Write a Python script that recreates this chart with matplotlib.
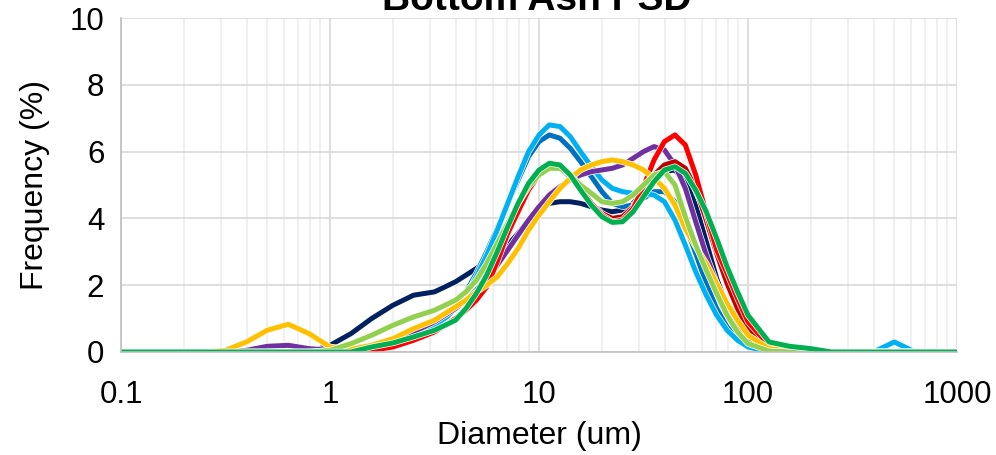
import matplotlib
matplotlib.use("Agg")
import matplotlib.pyplot as plt
import matplotlib.patheffects as pe
from matplotlib.ticker import LogLocator, FixedLocator, NullFormatter

plt.rcParams['font.family'] = ['Liberation Sans', 'DejaVu Sans']

# diámetros (um)
diametro = [0.1, 0.126, 0.158, 0.2, 0.251, 0.316, 0.398, 0.501, 0.631, 0.794,
            1.0, 1.26, 1.58, 2.0, 2.51,
            3.16, 3.55, 3.98, 4.47, 5.01, 5.62, 6.31, 7.08, 7.94, 8.91,
            10.0, 11.2, 12.6, 14.1, 15.8, 17.8, 20.0, 22.4, 25.1, 28.2,
            31.6, 35.5, 39.8, 44.7, 50.1, 56.2, 63.1, 70.8, 79.4, 89.1,
            100.0, 126, 158, 200, 251, 316, 398, 501, 631, 794, 1000]

# frecuencias (%) por muestra
navy = [0, 0, 0, 0, 0, 0, 0, 0, 0, 0,
        0.2, 0.55, 1.0, 1.4, 1.7,
        1.8, 1.95, 2.1, 2.3, 2.5, 2.75, 2.95, 3.2, 3.55, 3.95,
        4.25, 4.45, 4.5, 4.5, 4.45, 4.35, 4.25, 4.2, 4.25, 4.45,
        4.8, 5.15, 5.4, 5.45, 5.1, 4.4, 3.3, 2.2, 1.35, 0.7,
        0.35, 0.1, 0.05, 0, 0, 0, 0, 0, 0, 0, 0]
azul = [0, 0, 0, 0, 0, 0, 0, 0, 0, 0,
        0, 0.1, 0.2, 0.35, 0.55,
        0.8, 1.05, 1.35, 1.8, 2.35, 3.0, 3.7, 4.45, 5.15, 5.85,
        6.3, 6.5, 6.4, 6.1, 5.7, 5.25, 4.8, 4.45, 4.35, 4.4,
        4.6, 4.8, 4.8, 4.5, 3.8, 2.95, 2.05, 1.3, 0.75, 0.4,
        0.2, 0.05, 0, 0, 0, 0, 0, 0, 0, 0, 0]
celeste = [0, 0, 0, 0, 0, 0, 0, 0, 0, 0,
           0, 0.1, 0.2, 0.35, 0.55,
           0.8, 1.0, 1.3, 1.7, 2.25, 2.9, 3.65, 4.45, 5.25, 6.0,
           6.5, 6.8, 6.75, 6.45, 6.0, 5.55, 5.15, 4.9, 4.8, 4.75,
           4.75, 4.7, 4.5, 3.95, 3.2, 2.4, 1.7, 1.1, 0.65, 0.35,
           0.15, 0, 0, 0, 0, 0, 0, 0.3, 0, 0, 0]
morado = [0, 0, 0, 0, 0, 0, 0.05, 0.17, 0.2, 0.1,
          0.05, 0.1, 0.2, 0.35, 0.6,
          0.9, 1.1, 1.3, 1.55, 1.85, 2.2, 2.6, 3.05, 3.5, 3.95,
          4.35, 4.7, 4.95, 5.15, 5.3, 5.4, 5.45, 5.5, 5.6, 5.8,
          6.0, 6.15, 6.05, 5.6, 4.9, 3.9, 2.9, 2.05, 1.3, 0.75,
          0.4, 0.08, 0, 0, 0, 0, 0, 0, 0, 0, 0]
granate = [0, 0, 0, 0, 0, 0, 0, 0, 0, 0,
           0, 0, 0.05, 0.15, 0.35,
           0.6, 0.8, 1.0, 1.3, 1.65, 2.1, 2.75, 3.5, 4.25, 4.9,
           5.35, 5.55, 5.5, 5.25, 4.85, 4.45, 4.15, 4.0, 4.05, 4.35,
           4.85, 5.3, 5.6, 5.7, 5.5, 4.9, 3.95, 2.95, 2.05, 1.3,
           0.7, 0.15, 0.05, 0, 0, 0, 0, 0, 0, 0, 0]
rojo = [0, 0, 0, 0, 0, 0, 0, 0, 0, 0,
        0, 0, 0.05, 0.15, 0.35,
        0.6, 0.8, 1.0, 1.25, 1.55, 1.95, 2.7, 3.55, 4.2, 4.85,
        5.3, 5.55, 5.55, 5.3, 4.9, 4.45, 4.1, 3.9, 3.95, 4.3,
        4.95, 5.75, 6.3, 6.5, 6.2, 5.3, 4.15, 3.05, 2.35, 1.6,
        0.9, 0.2, 0.05, 0, 0, 0, 0, 0, 0, 0, 0]
amarillo = [0, 0, 0, 0, 0, 0.05, 0.3, 0.65, 0.83, 0.55,
            0.15, 0.08, 0.2, 0.4, 0.7,
            0.95, 1.15, 1.35, 1.55, 1.8, 2.0, 2.25, 2.65, 3.1, 3.65,
            4.1, 4.5, 4.9, 5.2, 5.45, 5.6, 5.7, 5.75, 5.7, 5.6,
            5.45, 5.2, 4.9, 4.4, 3.7, 3.15, 2.65, 2.05, 1.45, 0.95,
            0.5, 0.1, 0.03, 0, 0, 0, 0, 0, 0, 0, 0]
verde_claro = [0, 0, 0, 0, 0, 0, 0, 0, 0, 0,
               0.05, 0.25, 0.5, 0.8, 1.05,
               1.25, 1.4, 1.55, 1.8, 2.15, 2.65, 3.25, 3.85, 4.45, 4.95,
               5.3, 5.5, 5.5, 5.3, 5.0, 4.75, 4.5, 4.45, 4.5, 4.7,
               5.0, 5.3, 5.4, 5.0, 4.05, 3.2, 2.45, 1.75, 1.1, 0.6,
               0.25, 0.03, 0, 0, 0, 0, 0, 0, 0, 0, 0]
verde = [0, 0, 0, 0, 0, 0, 0, 0, 0, 0,
         0, 0, 0.15, 0.27, 0.45,
         0.65, 0.8, 0.95, 1.3, 1.75, 2.3, 3.0, 3.75, 4.45, 5.05,
         5.45, 5.65, 5.6, 5.3, 4.85, 4.4, 4.05, 3.88, 3.9, 4.2,
         4.65, 5.1, 5.45, 5.55, 5.35, 4.85, 4.2, 3.4, 2.55, 1.8,
         1.1, 0.3, 0.17, 0.1, 0, 0, 0, 0, 0, 0, 0]

series = [
    (navy, '#002060'),
    (azul, '#0070C0'),
    (celeste, '#00B0F0'),
    (morado, '#7030A0'),
    (granate, '#C00000'),
    (rojo, '#FF0000'),
    (amarillo, '#FFC000'),
    (verde_claro, '#92D050'),
    (verde, '#00B050'),
]

fig = plt.figure(figsize=(9.96, 4.55), dpi=100)
ax = fig.add_axes([0.1215, 0.2264, 0.8394, 0.734])

for valores, color in series:
    ax.plot(diametro, valores, color=color, lw=3.6, solid_capstyle='round',
            solid_joinstyle='round',
            path_effects=[pe.Stroke(linewidth=4.6, foreground='white'), pe.Normal()])

ax.set_xscale('log')
ax.set_xlim(0.1, 1000)
ax.set_ylim(0, 10)
ax.set_yticks([0, 2, 4, 6, 8, 10])
ax.xaxis.set_major_locator(FixedLocator([0.1, 1, 10, 100, 1000]))
ax.set_xticklabels(['0.1', '1', '10', '100', '1000'])
ax.xaxis.set_minor_locator(LogLocator(base=10, subs=range(2, 10), numticks=20))
ax.xaxis.set_minor_formatter(NullFormatter())

ax.grid(which='major', color='#D9D9D9', lw=1.2)
ax.grid(which='minor', axis='x', color='#EDEDED', lw=1.2)
ax.set_axisbelow(True)
for lado in ['top', 'right']:
    ax.spines[lado].set_visible(False)
ax.spines['left'].set_color('#BFBFBF')
ax.spines['bottom'].set_color('#BFBFBF')
ax.spines['left'].set_linewidth(1.2)
ax.spines['bottom'].set_linewidth(1.2)
ax.tick_params(which='both', length=0, labelsize=22.5, colors='black')
ax.tick_params(axis='x', pad=20)
ax.tick_params(axis='y', pad=12)

ax.set_xlabel('Diameter (um)', fontsize=23, labelpad=8)
ax.set_ylabel('Frequency (%)', fontsize=23, labelpad=14)
fig.text(0.539, 0.978, 'Bottom Ash PSD', fontsize=28, fontweight='bold',
         ha='center', va='baseline')

fig.savefig('out.png', dpi=100)
